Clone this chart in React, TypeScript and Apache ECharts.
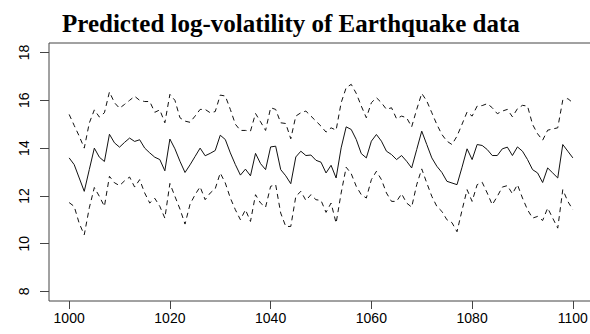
import React, { useEffect, useRef } from "react";
import * as echarts from "echarts";

// Time index of the first prediction; one value per step afterwards.
const startTime = 1000;

// Predicted log-volatility (posterior mean)
const meanLogVol = [
  13.59, 13.31, 12.75, 12.19, 13.1, 14.0, 13.62, 13.44, 14.58, 14.22,
  14.04, 14.24, 14.42, 14.28, 14.35, 14.0, 13.8, 13.62, 13.52, 13.05,
  14.38, 13.97, 13.45, 12.98, 13.3, 13.65, 14.0, 13.68, 13.78, 13.9,
  14.54, 14.36, 13.8, 13.31, 12.87, 13.12, 12.84, 13.78, 13.35, 13.1,
  14.05, 14.08, 13.1, 12.84, 12.51, 13.63, 13.87, 13.69, 13.71, 13.49,
  13.41, 12.96, 13.28, 12.75, 14.01, 14.89, 14.78, 14.36, 13.77, 13.59,
  14.29, 14.57, 14.29, 13.87, 13.73, 13.52, 13.69, 13.45, 13.17, 13.94,
  14.71, 14.15, 13.59, 13.24, 12.98, 12.61, 12.54, 12.47, 13.2, 13.97,
  13.52, 14.15, 14.11, 13.94, 13.69, 13.69, 13.97, 14.04, 13.69, 14.05,
  13.87, 13.52, 13.1, 12.96, 12.56, 13.17, 12.96, 12.75, 14.15, 13.87,
  13.59,
];

// Upper band
const upperBand = [
  15.41, 14.95, 14.5, 14.0, 15.05, 15.6, 15.3, 15.48, 16.35, 15.9,
  15.67, 15.83, 16.0, 16.17, 16.0, 15.95, 15.95, 15.5, 15.6, 15.06,
  16.25, 16.0, 15.27, 15.13, 15.08, 15.34, 15.62, 15.62, 15.48, 15.53,
  16.22, 16.18, 15.62, 15.0, 14.74, 14.74, 14.71, 15.45, 15.1, 14.74,
  15.69, 15.62, 15.06, 15.03, 14.39, 15.34, 15.48, 15.55, 15.34, 15.13,
  14.92, 14.67, 14.85, 14.75, 15.9, 16.53, 16.67, 16.29, 15.76, 15.27,
  15.9, 16.11, 15.9, 15.62, 15.69, 15.23, 15.34, 15.27, 14.89, 15.62,
  16.29, 15.97, 15.48, 14.99, 14.57, 14.29, 14.15, 14.5, 15.0, 15.51,
  15.34, 15.76, 15.78, 15.86, 15.69, 15.44, 15.55, 15.62, 15.31, 15.65,
  15.79, 15.76, 14.99, 14.6, 14.33, 14.75, 14.8, 14.85, 16.01, 16.07,
  15.9,
];

// Lower band
const lowerBand = [
  11.72, 11.56, 10.85, 10.37, 11.5, 12.35, 11.98, 11.56, 12.82, 12.55,
  12.43, 12.63, 12.79, 12.37, 12.68, 12.12, 11.7, 11.9, 11.56, 11.07,
  12.52, 11.98, 11.45, 10.82, 11.65, 12.05, 12.38, 11.84, 12.12, 12.3,
  12.96, 12.54, 11.91, 11.42, 11.0, 11.42, 10.93, 12.05, 11.7, 11.53,
  12.4, 12.47, 11.28, 10.72, 10.72, 11.98, 12.19, 11.81, 12.05, 11.84,
  11.81, 11.31, 11.7, 10.86, 12.12, 13.2, 12.93, 12.4, 12.05, 11.91,
  12.68, 13.03, 12.68, 12.12, 11.77, 11.77, 12.09, 11.7, 11.53, 12.47,
  13.13, 12.54, 11.98, 11.56, 11.35, 11.0, 10.88, 10.5, 11.4, 12.26,
  11.77, 12.47, 12.57, 12.12, 11.63, 11.98, 12.37, 12.43, 12.09, 12.47,
  11.91, 11.42, 11.07, 11.14, 10.97, 11.49, 11.07, 10.65, 12.26, 11.77,
  11.42,
];

const xTicks = [1000, 1020, 1040, 1060, 1080, 1100];
const yTicks = [8, 10, 12, 14, 16, 18];

const titleText = "Predicted log-volatility of Earthquake data";

const toPairs = (vals: number[]) => vals.map((v, i) => [startTime + i, v]);

export default function App() {
  const ref = useRef<HTMLDivElement>(null);

  useEffect(() => {
    if (!ref.current) return;
    const chart = echarts.init(ref.current, null, { renderer: "svg" });
    const axisFont = {
      fontFamily: "Liberation Sans, Arial, sans-serif",
      fontSize: 14,
      color: "#000",
    };
    const lineBase = {
      type: "line" as const,
      showSymbol: false,
      symbol: "none",
      silent: true,
      emphasis: { disabled: true },
    };
    chart.setOption({
      animation: false,
      backgroundColor: "#fff",
      title: {
        text: titleText,
        left: 62,
        top: 11,
        padding: 0,
        textStyle: {
          fontFamily: "Liberation Serif, Times New Roman, serif",
          fontWeight: "bold",
          fontSize: 25,
          color: "#000",
        },
      },
      grid: {
        left: 49,
        top: 43,
        right: 7,
        bottom: 33,
        show: true,
        borderColor: "#444",
        borderWidth: 1,
        backgroundColor: "transparent",
      },
      xAxis: {
        type: "value",
        min: 996,
        max: 1104,
        axisLine: { show: false },
        splitLine: { show: false },
        axisTick: {
          show: true,
          length: 8,
          customValues: xTicks,
          lineStyle: { color: "#444" },
        },
        axisLabel: {
          ...axisFont,
          customValues: xTicks,
          margin: 10,
          formatter: (v: number) => String(v),
          showMinLabel: true,
          showMaxLabel: true,
        },
      },
      yAxis: {
        type: "value",
        min: 7.6,
        max: 18.4,
        axisLine: { show: false },
        splitLine: { show: false },
        axisTick: {
          show: true,
          length: 9,
          customValues: yTicks,
          lineStyle: { color: "#444" },
        },
        axisLabel: {
          ...axisFont,
          customValues: yTicks,
          rotate: 90,
          margin: 18,
          formatter: (v: number) => String(v),
          showMinLabel: true,
          showMaxLabel: true,
        },
      },
      series: [
        {
          ...lineBase,
          name: "mean",
          data: toPairs(meanLogVol),
          lineStyle: { color: "#111", width: 1 },
        },
        {
          ...lineBase,
          name: "upper",
          data: toPairs(upperBand),
          lineStyle: { color: "#111", width: 1, type: [5, 4] },
        },
        {
          ...lineBase,
          name: "lower",
          data: toPairs(lowerBand),
          lineStyle: { color: "#111", width: 1, type: [5, 4] },
        },
      ],
    });
    return () => chart.dispose();
  }, []);

  return (
    <div
      style={{
        position: "absolute",
        left: 0,
        top: 0,
        width: 590,
        height: 334,
        overflow: "hidden",
        background: "#fff",
      }}
    >
      <div ref={ref} style={{ width: 600, height: 334 }} />
    </div>
  );
}
